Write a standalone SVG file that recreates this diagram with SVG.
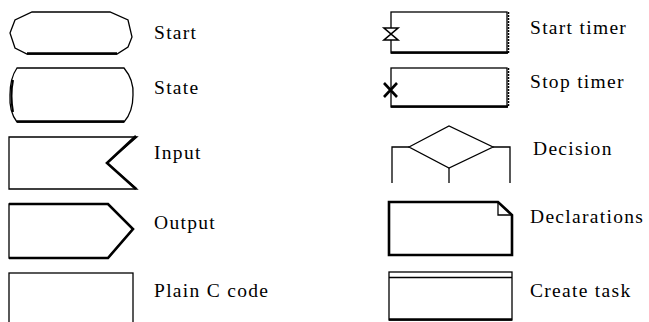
<svg xmlns="http://www.w3.org/2000/svg" width="649" height="322" viewBox="0 0 649 322">
<style>
.s{fill:#fff;stroke:#000;stroke-width:1.3;stroke-linejoin:miter}
.t{fill:none;stroke:#000;stroke-width:2.6}
.l{font-family:"Liberation Serif","Times New Roman",serif;font-size:19.5px;letter-spacing:1.3px;fill:#000}
</style>
<rect width="649" height="322" fill="#fff"/>
<g id="start">
<path class="s" d="M32,12 L110,12 L128,20 L132,37 L128,47 L117,54 L27,54 L15,48 L10,33 L15,20 Z"/>
<line class="t" x1="27" y1="53.5" x2="117" y2="53.5"/>
<text class="l" x="154" y="39">Start</text>
</g>
<g id="state">
<path class="s" d="M17,68 L124,68 Q134,80 133,95 Q133,112 124,122 L17,122 Q9,112 10,95 Q10,78 17,68 Z"/>
<line class="t" x1="17" y1="121.5" x2="124" y2="121.5"/>
<path d="M13,80 Q10,95 13,112" fill="none" stroke="#000" stroke-width="2"/>
<text class="l" x="154" y="94">State</text>
</g>
<g id="input">
<path class="s" d="M9,137 L137,137 L107,163 L137,189 L9,189 Z"/>
<polyline class="t" points="136,136 107,163 136,189"/>
<text class="l" x="154" y="159">Input</text>
</g>
<g id="output">
<path class="s" d="M9,204 L108,204 L133,229 L108,258 L9,258 Z"/>
<polyline class="t" points="9,204 108,204 133,229 108,258 9,258"/>
<text class="l" x="154" y="229">Output</text>
</g>
<g id="plain-c-code">
<rect class="s" x="9" y="273" width="124" height="60"/>
<text class="l" x="154" y="297">Plain C code</text>
</g>
<g id="start-timer">
<rect class="s" x="391" y="12" width="116" height="41"/>
<line class="t" x1="391" y1="52.5" x2="508" y2="52.5"/>
<line x1="508.5" y1="12" x2="508.5" y2="53" stroke="#000" stroke-width="1.5" stroke-dasharray="2,1"/>
<path d="M384,28 L398,28 L384,40 L398,40 Z" fill="#fff" stroke="#000" stroke-width="1.6"/>
<text class="l" x="530" y="34">Start timer</text>
</g>
<g id="stop-timer">
<rect class="s" x="391" y="68" width="116" height="39"/>
<line class="t" x1="391" y1="106.5" x2="508" y2="106.5"/>
<line x1="508.5" y1="68" x2="508.5" y2="107" stroke="#000" stroke-width="1.5" stroke-dasharray="2,1"/>
<path d="M384,83 L397,97 M397,83 L384,97" stroke="#000" stroke-width="2.6" fill="none"/>
<text class="l" x="530" y="88">Stop timer</text>
</g>
<g id="decision">
<path class="s" d="M409,147 L449,126 L493,147 L449,168 Z" stroke-width="1.6"/>
<polyline points="392,183 392,147 409,147" fill="none" stroke="#000" stroke-width="1.3"/>
<polyline points="510,183 510,147 493,147" fill="none" stroke="#000" stroke-width="1.3"/>
<line x1="449" y1="168" x2="449" y2="183" stroke="#000" stroke-width="1.3"/>
<text class="l" x="533" y="155">Decision</text>
</g>
<g id="declarations">
<path d="M389,202 L498,202 L512,215 L512,255 L389,255 Z" fill="#fff" stroke="#000" stroke-width="2.6"/>
<polyline points="498,202 498,215 512,215" fill="none" stroke="#000" stroke-width="1.3"/>
<text class="l" x="530" y="223">Declarations</text>
</g>
<g id="create-task">
<rect class="s" x="389" y="272" width="123" height="48" stroke-width="1.6"/>
<line x1="389" y1="277.5" x2="512" y2="277.5" stroke="#000" stroke-width="1.3"/>
<line class="t" x1="389" y1="319.5" x2="512" y2="319.5"/>
<text class="l" x="530" y="297">Create task</text>
</g>
<g id="connectors"/>
</svg>
